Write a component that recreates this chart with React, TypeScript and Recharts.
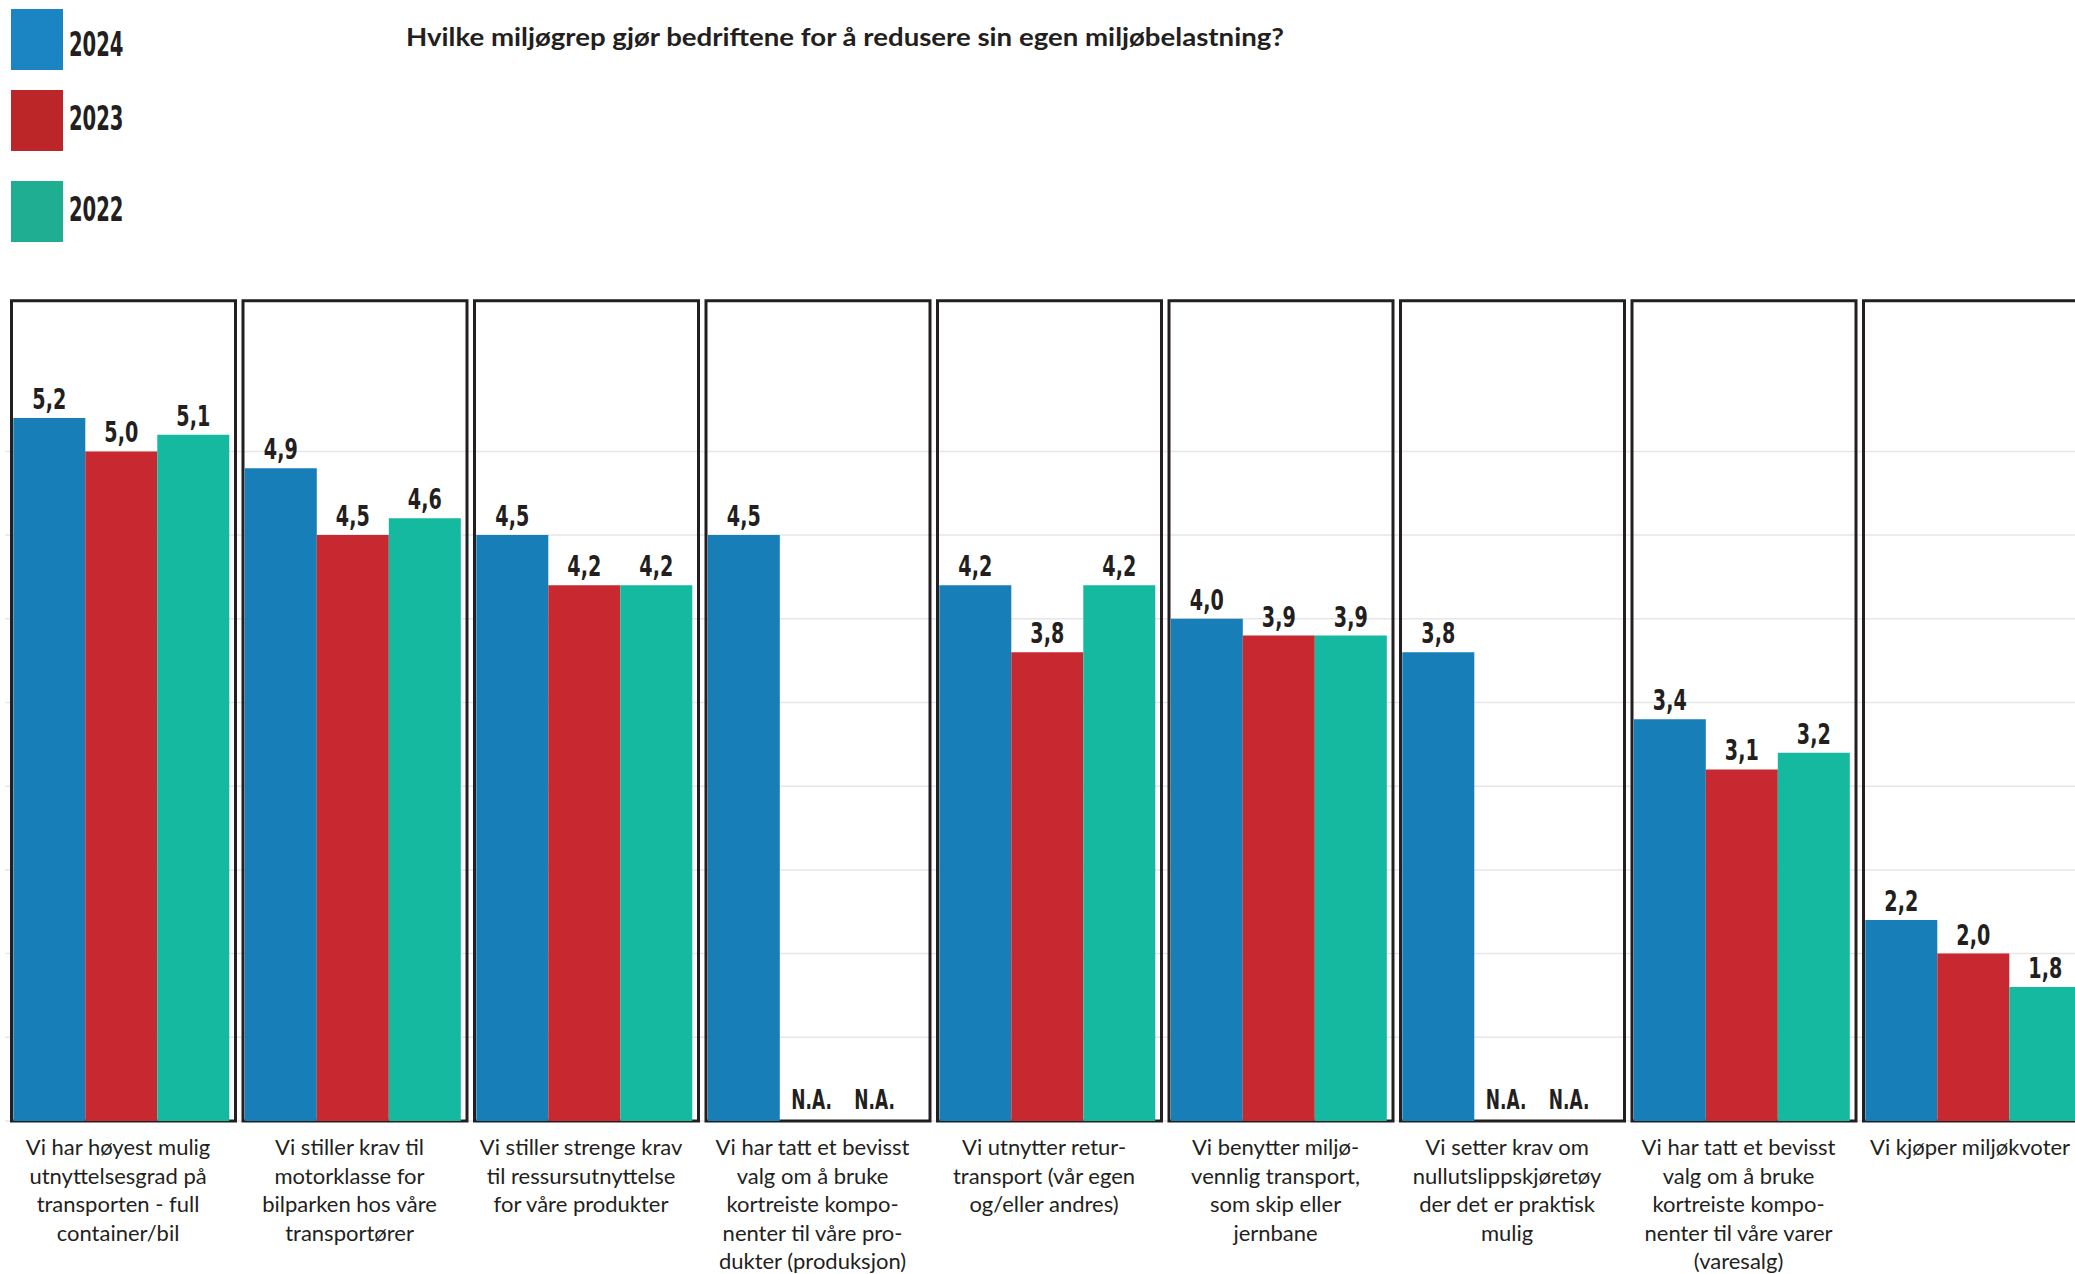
import { BarChart, Bar, XAxis, YAxis, CartesianGrid, LabelList, Legend, ReferenceArea, ReferenceDot } from 'recharts';

const CATEGORIES = [
  'Vi har høyest mulig\nutnyttelsesgrad på\ntransporten - full\ncontainer/bil',
  'Vi stiller krav til\nmotorklasse for\nbilparken hos våre\ntransportører',
  'Vi stiller strenge krav\ntil ressursutnyttelse\nfor våre produkter',
  'Vi har tatt et bevisst\nvalg om å bruke\nkortreiste kompo-\nnenter til våre pro-\ndukter (produksjon)',
  'Vi utnytter retur-\ntransport (vår egen\nog/eller andres)',
  'Vi benytter miljø-\nvennlig transport,\nsom skip eller\njernbane',
  'Vi setter krav om\nnullutslippskjøretøy\nder det er praktisk\nmulig',
  'Vi har tatt et bevisst\nvalg om å bruke\nkortreiste kompo-\nnenter til våre varer\n(varesalg)',
  'Vi kjøper miljøkvoter',
];

const VALUES_2024 = [5.2, 4.9, 4.5, 4.5, 4.2, 4.0, 3.8, 3.4, 2.2];
const VALUES_2023 = [5.0, 4.5, 4.2, null, 3.8, 3.9, null, 3.1, 2.0];
const VALUES_2022 = [5.1, 4.6, 4.2, null, 4.2, 3.9, null, 3.2, 1.8];

const YEARS = ['2024', '2023', '2022'];
const GRID_TICKS = [1, 1.5, 2, 2.5, 3, 3.5, 4, 4.5, 5];
const Y_DOMAIN = [1, 6];
const BOX_TOP = 5.9;

const TITLE = 'Hvilke miljøgrep gjør bedriftene for å redusere sin egen miljøbelastning?';

const BAR_COLORS: Record<string, string> = {
  '2024': '#177eb8',
  '2023': '#c8282f',
  '2022': '#14b9a0',
};
const LEGEND_COLORS: Record<string, string> = {
  '2024': '#1b84c2',
  '2023': '#bd2629',
  '2022': '#20ae93',
};

const TEXT = '#231f20';
const CONDENSED = "'DejaVu Sans Condensed', 'DejaVu Sans', sans-serif";
const LABEL_FONT = "Lato, 'Open Sans', sans-serif";

// horizontal offset of the N.A. text from the category centre, per series
const NA_DX: Record<string, number> = { y2023: -4, y2022: 59 };

const data = CATEGORIES.map((name, i) => ({
  name,
  y2024: VALUES_2024[i],
  y2023: VALUES_2023[i],
  y2022: VALUES_2022[i],
}));

const missing = data.flatMap((d) =>
  (['y2023', 'y2022'] as const).filter((k) => d[k] == null).map((k) => ({ name: d.name, key: k }))
);

function CategoryTick(props: any) {
  const { x, y, payload } = props;
  const lines = String(payload.value).split('\n');
  const tx = x - 3;
  return (
    <text x={tx} y={y} textAnchor="middle" fontFamily={LABEL_FONT} fontSize={22} fill={TEXT}>
      {lines.map((line, i) => (
        <tspan key={i} x={tx} dy={i === 0 ? 26 : 28.5}>
          {line}
        </tspan>
      ))}
    </text>
  );
}

function ValueLabel(props: any) {
  const vb = props.viewBox ?? props;
  const cx = Number(vb.x) + Number(vb.width) / 2;
  const y = Number(vb.y);
  if (props.value == null) return null;
  return (
    <text
      transform={`translate(${cx},${y - 9}) scale(0.76,1)`}
      textAnchor="middle"
      fontFamily={CONDENSED}
      fontWeight={700}
      fontSize={28}
      fill={TEXT}
    >
      {Number(props.value).toFixed(1).replace('.', ',')}
    </text>
  );
}

const makeNaMark = (dx: number) => (props: any) => (
  <text
    transform={`translate(${Number(props.cx) + dx},${Number(props.cy) - 12}) scale(0.7,1)`}
    textAnchor="middle"
    fontFamily={CONDENSED}
    fontWeight={700}
    fontSize={27}
    fill={TEXT}
  >
    N.A.
  </text>
);

function CategoryBox(props: any) {
  const { x, y, width, height } = props;
  return (
    <rect x={x + 6.2} y={y} width={width - 7.5} height={height} fill="none" stroke={TEXT} strokeWidth={3} />
  );
}

const LEGEND_ROWS = [
  { top: 9, base: 56 },
  { top: 90, base: 130 },
  { top: 181, base: 221 },
];

function YearLegend(props: any) {
  const items = props.payload ?? [];
  return (
    <svg width={130} height={250}>
      {YEARS.map((year, i) => {
        const item = items.find((p: any) => String(p.value) === year);
        return (
          <g key={year}>
            <rect x={11} y={LEGEND_ROWS[i].top} width={52} height={61} fill={LEGEND_COLORS[year] ?? item?.color} />
            <text
              transform={`translate(69,${LEGEND_ROWS[i].base}) scale(0.66,1)`}
              fontFamily={CONDENSED}
              fontWeight={700}
              fontSize={33}
              fill={TEXT}
            >
              {year}
            </text>
          </g>
        );
      })}
    </svg>
  );
}

export default function App() {
  return (
    <div style={{ position: 'absolute', left: 0, top: 0, width: 2075, height: 1274, overflow: 'hidden', background: '#fff' }}>
      <BarChart
        width={2100}
        height={1274}
        data={data}
        margin={{ top: 284, right: 11.2, bottom: 0, left: 5.3 }}
        barGap={0}
        barCategoryGap={8}
      >
        <CartesianGrid vertical={false} horizontalValues={GRID_TICKS} stroke="#e6e6e6" strokeWidth={1.5} />
        <XAxis
          dataKey="name"
          interval={0}
          axisLine={false}
          tickLine={false}
          height={153}
          tick={<CategoryTick />}
        />
        <YAxis hide domain={Y_DOMAIN} ticks={GRID_TICKS} allowDataOverflow />
        {CATEGORIES.map((c) => (
          <ReferenceArea key={c} x1={c} x2={c} y1={Y_DOMAIN[0]} y2={BOX_TOP} shape={<CategoryBox />} />
        ))}
        <Legend
          layout="horizontal"
          verticalAlign="middle"
          align="center"
          wrapperStyle={{ top: 0, left: 0, width: 130, height: 250 }}
          content={<YearLegend />}
        />
        {YEARS.map((year) => (
          <Bar key={year} dataKey={`y${year}`} name={year} fill={BAR_COLORS[year]} isAnimationActive={false}>
            <LabelList dataKey={`y${year}`} content={<ValueLabel />} />
          </Bar>
        ))}
        {missing.map((m) => (
          <ReferenceDot
            key={`${m.name}-${m.key}`}
            x={m.name}
            y={Y_DOMAIN[0]}
            r={0}
            shape={makeNaMark(NA_DX[m.key])}
          />
        ))}
      </BarChart>
      <svg width={2075} height={70} style={{ position: 'absolute', left: 0, top: 0, pointerEvents: 'none' }}>
        <text
          x={406}
          y={46}
          fontFamily={LABEL_FONT}
          fontWeight={700}
          fontSize={24}
          fill={TEXT}
          textLength={878}
          lengthAdjust="spacingAndGlyphs"
        >
          {TITLE}
        </text>
      </svg>
    </div>
  );
}
